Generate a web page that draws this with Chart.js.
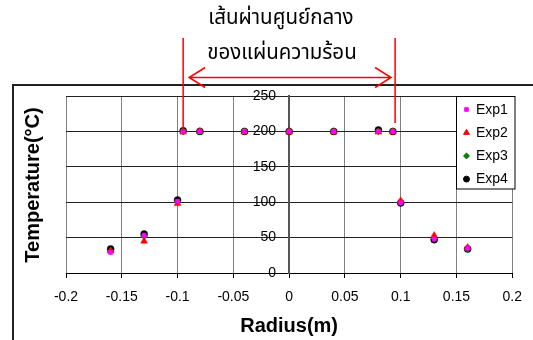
<!DOCTYPE html>
<html><head><meta charset="utf-8">
<script src="https://cdn.jsdelivr.net/npm/chart.js@4/dist/chart.umd.min.js"></script>
<style>html,body{margin:0;padding:0;background:#fff;overflow:hidden}#wrap{position:relative;width:533px;height:340px}</style>
</head><body><div id="wrap"><canvas id="c" width="533" height="340"></canvas></div>
<script>
// ---- data ----
const radius = [-0.16, -0.13, -0.1, -0.095, -0.08, -0.04, 0, 0.04, 0.08, 0.093, 0.1, 0.13, 0.16];
const exp1 = [29, 53, 101, 200, 200, 200, 200, 200, 200, 200, 99, 48, 35];
const exp2 = [31, 45, 98, 199, 200, 199, 199, 199, 199, 199, 102, 53, 36];
const exp3 = [31, 52, 100, 200, 200, 200, 200, 200, 200, 200, 100, 49, 34];
const exp4 = [34, 55, 103, 201, 200, 200, 200, 200, 202, 200, 99, 47, 34];
const seriesNames = ['Exp1', 'Exp2', 'Exp3', 'Exp4'];
const xTickLabels = ['-0.2', '-0.15', '-0.1', '-0.05', '0', '0.05', '0.1', '0.15', '0.2'];
const yTickLabels = ['0', '50', '100', '150', '200', '250'];
const xTitle = 'Radius(m)';
const yTitle = 'Temperature(°C)';
const annotText = ['เส้นผ่านศูนย์กลาง', 'ของแผ่นความร้อน'];
const annotRadius = [-0.095, 0.095];

const toPts = ys => radius.map((x, i) => ({x: x, y: ys[i]}));
const styles = [
  {pointStyle: 'rect', color: '#ff00ff', r: 3},
  {pointStyle: 'triangle', color: '#ff0000', r: 4},
  {pointStyle: 'rectRot', color: '#008000', r: 3.5},
  {pointStyle: 'circle', color: '#000000', r: 3.5}
];
const seriesVals = [exp1, exp2, exp3, exp4];
const datasets = seriesNames.map((n, i) => ({
  label: n,
  data: toPts(seriesVals[i]),
  showLine: false,
  pointStyle: styles[i].pointStyle,
  pointRadius: styles[i].r,
  pointBackgroundColor: styles[i].color,
  pointBorderColor: styles[i].color,
  pointBorderWidth: 0.5
}));

const FONT = '"Liberation Sans", Arial, sans-serif';

const deco = {
  id: 'deco',
  beforeDraw(chart) {
    // move the centred y-axis labels off the axis line (label padding)
    const items = chart.scales.y.getLabelItems(chart.chartArea);
    items.forEach(it => { it.options.translation[0] -= 13; });
  },
  afterDraw(chart) {
    const ctx = chart.ctx;
    const xs = chart.scales.x, ys = chart.scales.y;
    ctx.save();
    // outer frame
    ctx.strokeStyle = '#222';
    ctx.lineWidth = 2;
    ctx.beginPath();
    ctx.moveTo(13, 345); ctx.lineTo(13, 85); ctx.lineTo(540, 85);
    ctx.stroke();

    // y title
    ctx.save();
    ctx.translate(33, 185);
    ctx.rotate(-Math.PI / 2);
    ctx.font = 'bold 20px ' + FONT;
    ctx.fillStyle = '#000';
    ctx.textAlign = 'center';
    ctx.textBaseline = 'middle';
    ctx.fillText(yTitle, 0, 0);
    ctx.restore();

    // legend
    const lx = 456.5, ly = 96.5, lw = 58.5, lh = 92.5;
    ctx.fillStyle = '#fff';
    ctx.fillRect(lx, ly, lw, lh);
    ctx.strokeStyle = '#000';
    ctx.lineWidth = 1;
    ctx.strokeRect(lx, ly, lw, lh);
    ctx.font = '14px ' + FONT;
    ctx.textAlign = 'left';
    ctx.textBaseline = 'middle';
    chart.data.datasets.forEach((ds, i) => {
      const cy = 109.5 + i * 23.2;
      ctx.fillStyle = ds.pointBackgroundColor;
      ctx.strokeStyle = ds.pointBorderColor;
      Chart.helpers.drawPoint(ctx, {pointStyle: ds.pointStyle, radius: ds.pointRadius * 0.85, rotation: 0, borderWidth: 0.5}, 466.5, cy);
      ctx.fillStyle = '#000';
      ctx.fillText(ds.label, 476, cy + 0.5);
    });

    // annotation
    const xl = xs.getPixelForValue(annotRadius[0]);
    const xr = xs.getPixelForValue(annotRadius[1]);
    ctx.strokeStyle = '#ff0000';
    ctx.fillStyle = '#ff0000';
    ctx.lineWidth = 1.5;
    ctx.beginPath();
    ctx.moveTo(xl, 38); ctx.lineTo(xl, ys.getPixelForValue(200) - 1);
    ctx.moveTo(xr, 38); ctx.lineTo(xr, ys.getPixelForValue(212));
    ctx.stroke();
    const ay = 77.5, a1 = xl + 6, a2 = xr - 4;
    ctx.beginPath();
    ctx.moveTo(a1, ay); ctx.lineTo(a2, ay);
    ctx.moveTo(a1 + 16, ay - 10); ctx.lineTo(a1, ay); ctx.lineTo(a1 + 16, ay + 10);
    ctx.moveTo(a2 - 16, ay - 10); ctx.lineTo(a2, ay); ctx.lineTo(a2 - 16, ay + 10);
    ctx.stroke();

    ctx.fillStyle = '#000';
    ctx.font = '20.5px "Noto Sans Thai", Tahoma, "DejaVu Sans", sans-serif';
    ctx.textAlign = 'center';
    ctx.textBaseline = 'middle';
    ctx.fillText(annotText[0], 281, 20);
    ctx.fillText(annotText[1], 282, 55);
    ctx.restore();
  }
};

new Chart(document.getElementById('c'), {
  type: 'scatter',
  data: {datasets: datasets},
  options: {
    responsive: false,
    devicePixelRatio: 1,
    animation: false,
    layout: {padding: {left: 66, top: 96, right: 18, bottom: 0}},
    plugins: {legend: {display: false}, tooltip: {enabled: false}},
    scales: {
      x: {
        type: 'linear', min: -0.2, max: 0.2,
        afterBuildTicks: s => { s.ticks = xTickLabels.map(v => ({value: parseFloat(v)})); },
        afterFit: s => { s.height = 67; },
        ticks: {
          padding: 11, color: '#000', font: {size: 14, family: FONT},
          maxRotation: 0, autoSkip: false,
          callback: (v, i) => xTickLabels[i]
        },
        grid: {color: '#808080', lineWidth: 1, tickLength: 5, tickColor: '#000'},
        border: {color: '#000', width: 1},
        title: {display: true, text: xTitle, color: '#000', font: {size: 20, weight: 'bold', family: FONT}, padding: {top: 0, bottom: 2}}
      },
      y: {
        type: 'linear', min: 0, max: 250,
        position: {x: 0},
        afterBuildTicks: s => { s.ticks = yTickLabels.map(v => ({value: parseFloat(v)})); },
        ticks: {
          padding: 6, color: '#000', font: {size: 14, family: FONT},
          callback: (v, i) => yTickLabels[i]
        },
        grid: {color: '#222', lineWidth: 1, tickLength: 7, tickColor: '#222'},
        border: {color: '#555', width: 2}
      }
    }
  },
  plugins: [deco]
});
</script>
</body></html>
